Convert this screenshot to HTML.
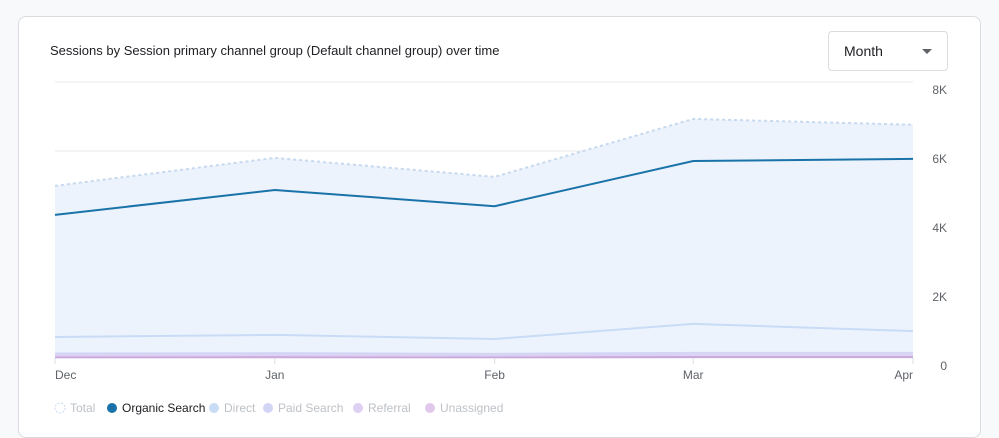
<!DOCTYPE html>
<html><head><meta charset="utf-8"><style>
body{margin:0;width:999px;height:418px;background:#f8f9fa;font-family:"Liberation Sans",Arial,sans-serif;overflow:hidden;position:relative}
.card{position:absolute;left:18px;top:16px;width:961px;height:420px;background:#fff;border:1px solid #dadce0;border-radius:8px}
.title{position:absolute;left:50px;top:43px;font-size:13px;color:#202124}
.sel{position:absolute;left:828px;top:31px;width:118px;height:38px;border:1px solid #dadce0;border-radius:4px;background:#fff}
.sel span{position:absolute;left:15px;top:11px;font-size:14px;color:#202124}
.sel i{position:absolute;left:93px;top:17px;width:0;height:0;border-left:5px solid transparent;border-right:5px solid transparent;border-top:5px solid #5f6368}
</style></head><body>
<div class="card"></div>
<div class="title">Sessions by Session primary channel group (Default channel group) over time</div>
<div class="sel"><span>Month</span><i></i></div>
<svg id="c" width="999" height="418" style="position:absolute;left:0;top:0"></svg>
<script>
const categories=["Dec","Jan","Feb","Mar","Apr"];
const dayOffsets=[0,31,62,90,121];
const yTicks=[0,2000,4000,6000,8000];
const yTickLabels=["0","2K","4K","6K","8K"];
const total=[4990,5800,5250,6930,6760];
const organic=[4150,4870,4400,5710,5770];
const direct=[610,670,550,990,780];
const paid=[130,140,120,150,150];
const referral=[80,85,80,90,90];
const unassigned=[20,25,20,30,30];
const svg=document.getElementById('c');const NS='http://www.w3.org/2000/svg';
const x0=55,x1=913,y0=358,y1=82;
const X=d=>x0+(d/121)*(x1-x0);const Y=v=>y0-(v/8000)*(y0-y1);
function el(t,a,n){const e=document.createElementNS(NS,t);for(const k in a)e.setAttribute(k,a[k]);


svg.appendChild(e);return e;}
yTicks.forEach((v,i)=>{el('line',{x1:x0,x2:x1,y1:Y(v),y2:Y(v),stroke:'#e8eaed','stroke-width':1},'gridline-'+yTickLabels[i]);
const t=el('text',{x:947,y:Y(v)+12,'font-size':12,fill:'#5f6368','text-anchor':'end'},'y-tick-'+yTickLabels[i]);t.textContent=yTickLabels[i];});
const pts=a=>a.map((v,i)=>X(dayOffsets[i])+','+Y(a[i])).join(' ');
el('polygon',{points:X(0)+','+y0+' '+pts(total)+' '+X(121)+','+y0,fill:'#ecf3fd'},'total-area');
el('polyline',{points:pts(total),fill:'none',stroke:'#c6d9ef','stroke-width':2,'stroke-dasharray':'3,3'},'total-line');
el('polyline',{points:pts(unassigned),fill:'none',stroke:'#c9a8dc','stroke-width':2},'unassigned-line');
el('polyline',{points:pts(referral),fill:'none',stroke:'#ddd0f3','stroke-width':2},'referral-line');
el('polyline',{points:pts(paid),fill:'none',stroke:'#d3d5f5','stroke-width':2},'paid-search-line');
el('polyline',{points:pts(direct),fill:'none',stroke:'#c8dcf6','stroke-width':2},'direct-line');
el('polyline',{points:pts(organic),fill:'none',stroke:'#1a73a8','stroke-width':2},'organic-search-line');
categories.forEach((c,i)=>{const x=X(dayOffsets[i]);
el('line',{x1:x,x2:x,y1:y0,y2:y0+6,stroke:'#dadce0'},'x-tick-mark-'+c);
const t=el('text',{x:i==0?x:i==4?x:x,y:y0+21,'font-size':12,fill:'#5f6368','text-anchor':i==0?'start':i==4?'end':'middle'},'x-tick-'+c);t.textContent=c;});
const leg=[["Total","#fff","#c6d9ef","#bdc1c6"],["Organic Search","#1a73a8",null,"#202124"],["Direct","#c8dcf6",null,"#bdc1c6"],["Paid Search","#d3d5f5",null,"#bdc1c6"],["Referral","#ddd0f3",null,"#bdc1c6"],["Unassigned","#e0c8ec",null,"#bdc1c6"]];
const lx=[60,112,214,268,358,430];
leg.forEach((l,i)=>{const a={cx:lx[i],cy:408,r:5,fill:l[1]};if(l[2]){a.stroke=l[2];a['stroke-dasharray']='2,1.5';}
el('circle',a,'legend-dot-'+i);
const t=el('text',{x:lx[i]+10,y:412,'font-size':12,fill:l[3]},'legend-entry-'+l[0].toLowerCase().replace(' ','-'));t.textContent=l[0];});
</script>
</body></html>
